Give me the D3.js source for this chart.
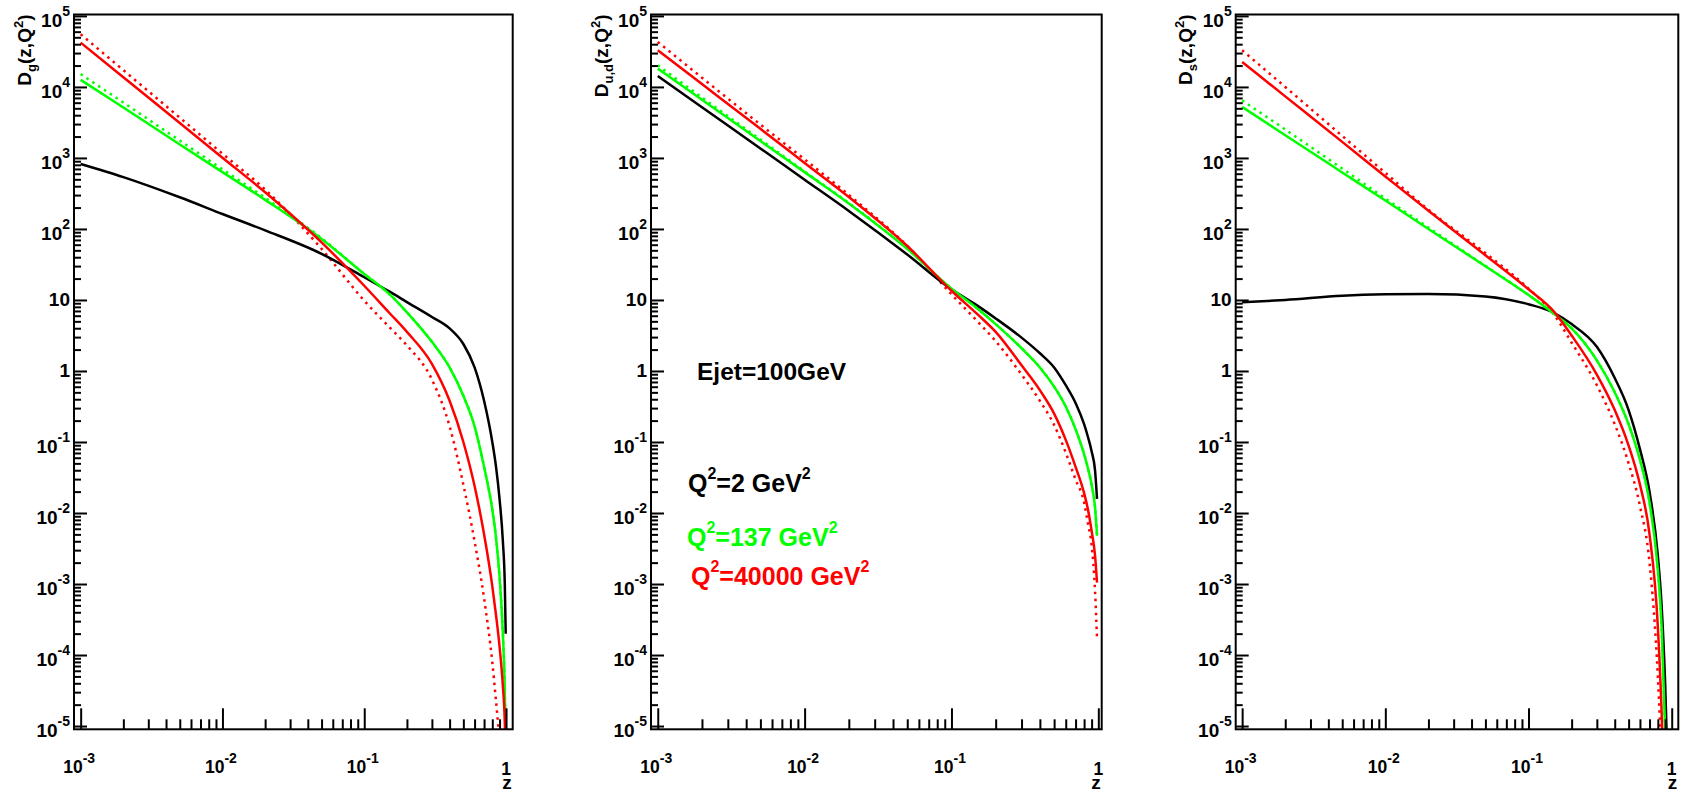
<!DOCTYPE html>
<meta charset="utf-8">
<style>

body {
  margin: 0;
  background: #fff;
}

text {
  font-family: "Liberation Sans", Arial, sans-serif;
  font-weight: bold;
}

.tick line {
  stroke: #000;
  stroke-width: 2px;
}

</style>
<svg width="1683" height="793"></svg>
<script src="https://d3js.org/d3.v7.min.js"></script>
<script>

var zValues = [0.001, 0.002, 0.005, 0.01, 0.02, 0.05, 0.1, 0.15, 0.2, 0.3,
               0.4, 0.5, 0.6, 0.7, 0.8, 0.85, 0.9, 0.95, 0.98, 0.995];

// log10 D(z,Q^2) (null = curve already left the frame)
var gluonQ2        = [2.915, 2.73, 2.446, 2.211, 1.98, 1.65, 1.32, 1.12, 0.97, 0.76, 0.6, 0.38, 0.05, -0.42, -1.0, -1.35, -1.8, -2.4, -3.0, -3.7];
var gluonQ137      = [4.10, 3.71, 3.19, 2.80, 2.41, 1.86, 1.366, 1.085, 0.826, 0.41, 0.05, -0.35, -0.78, -1.35, -1.95, -2.35, -2.9, -3.7, -4.5, -5.3];
var gluonQ137dot   = [4.18, 3.78, 3.245, 2.84, 2.44, 1.87, 1.366, 1.085, 0.826, 0.41, 0.05, -0.35, -0.78, -1.35, -1.95, -2.35, -2.9, -3.7, -4.5, -5.3];
var gluonQ40000    = [4.624, 4.136, 3.492, 3.004, 2.516, 1.81, 1.2, 0.82, 0.55, 0.1, -0.42, -1.0, -1.62, -2.3, -3.03, -3.44, -3.88, -4.44, -4.94, -5.5];
var gluonQ40000dot = [4.742, 4.236, 3.568, 3.06, 2.555, 1.72, 0.99, 0.62, 0.36, -0.12, -0.78, -1.6, -2.4, -3.2, -4.1, -4.65, -5.2, null, null, null];

var quarkQ2        = [4.155, 3.715, 3.134, 2.694, 2.254, 1.64, 1.15, 0.92, 0.74, 0.47, 0.25, 0.05, -0.2, -0.45, -0.75, -0.93, -1.13, -1.4, -1.8, null];
var quarkQ137      = [4.258, 3.819, 3.239, 2.80, 2.36, 1.72, 1.16, 0.88, 0.66, 0.32, 0.05, -0.22, -0.5, -0.82, -1.17, -1.37, -1.6, -1.92, -2.32, null];
var quarkQ137dot   = [4.305, 3.85, 3.26, 2.81, 2.365, 1.72, 1.16, 0.88, 0.66, 0.32, 0.05, -0.22, -0.5, -0.82, -1.17, -1.37, -1.6, -1.92, -2.32, null];
var quarkQ40000    = [4.516, 4.04, 3.41, 2.93, 2.45, 1.76, 1.13, 0.8, 0.55, 0.08, -0.27, -0.6, -0.97, -1.35, -1.72, -1.95, -2.25, -2.6, -2.98, null];
var quarkQ40000dot = [4.634, 4.13, 3.47, 2.98, 2.48, 1.76, 1.08, 0.7, 0.42, -0.05, -0.42, -0.76, -1.15, -1.53, -1.85, -2.15, -2.45, -3.1, -3.77, null];

var strangeQ2        = [0.967, 1.0, 1.06, 1.08, 1.085, 1.05, 0.94, 0.82, 0.66, 0.34, -0.1, -0.55, -1.1, -1.7, -2.6, -3.3, -4.4, -6.0, null, null];
var strangeQ137      = [3.718, 3.32, 2.796, 2.40, 2.00, 1.475, 1.07, 0.81, 0.6, 0.15, -0.3, -0.75, -1.25, -1.85, -2.8, -3.6, -5.05, null, null, null];
var strangeQ137dot   = [3.81, 3.40, 2.85, 2.43, 2.02, 1.48, 1.07, 0.81, 0.6, 0.15, -0.3, -0.75, -1.25, -1.85, -2.8, -3.6, -5.05, null, null, null];
var strangeQ40000    = [4.352, 3.867, 3.226, 2.74, 2.255, 1.63, 1.15, 0.84, 0.5, -0.05, -0.55, -1.05, -1.6, -2.3, -3.6, -4.8, -6.5, null, null, null];
var strangeQ40000dot = [4.516, 4.0, 3.31, 2.79, 2.27, 1.66, 1.16, 0.8, 0.4, -0.2, -0.75, -1.3, -1.9, -2.7, -4.3, -5.5, null, null, null, null];

// tick labels: [base, exponent]
var xTickLabels = [["10", "-3"], ["10", "-2"], ["10", "-1"], ["1", ""]];
var yTickLabels = [["10", "5"], ["10", "4"], ["10", "3"], ["10", "2"], ["10", ""], ["1", ""],
                   ["10", "-1"], ["10", "-2"], ["10", "-3"], ["10", "-4"], ["10", "-5"]];

var panelTitles = [["D", "g"], ["D", "u,d"], ["D", "s"]];
var legendLabels = [["Q", "=2 GeV"], ["Q", "=137 GeV"], ["Q", "=40000 GeV"]];
var energyLabel = "Ejet=100GeV";

var svg = d3.select("svg"),
    frameTop = 14.5,
    frameBottom = 729.3;

var panels = [
  {left: 74,     right: 512.7,  xlo: -3.047, xhi: 0.047, title: panelTitles[0],
   series: [gluonQ137dot, gluonQ40000dot, gluonQ2, gluonQ137, gluonQ40000]},
  {left: 651,    right: 1101.7, xlo: -3.046, xhi: 0.023, title: panelTitles[1],
   series: [quarkQ137dot, quarkQ40000dot, quarkQ2, quarkQ137, quarkQ40000]},
  {left: 1235.7, right: 1678.3, xlo: -3.045, xhi: 0.046, title: panelTitles[2],
   series: [strangeQ137dot, strangeQ40000dot, strangeQ2, strangeQ137, strangeQ40000]}
];

var styles = [
  {color: "#00ff00", dotted: true},
  {color: "#ff0000", dotted: true},
  {color: "#000000", dotted: false},
  {color: "#00ff00", dotted: false},
  {color: "#ff0000", dotted: false}
];

var y = d3.scaleLog()
    .domain([Math.pow(10, -5.046), Math.pow(10, 5.02)])
    .range([frameBottom, frameTop]);

var yMajor = d3.range(-5, 6).map(function(k) { return Math.pow(10, k); });
var yMinor = [];
d3.range(-5, 5).forEach(function(k) {
  for (var m = 2; m <= 9; m++) yMinor.push(m * Math.pow(10, k));
});
var xMajor = d3.range(-3, 1).map(function(k) { return Math.pow(10, k); });
var xMinor = [];
d3.range(-3, 0).forEach(function(k) {
  for (var m = 2; m <= 9; m++) xMinor.push(m * Math.pow(10, k));
});

function powerText(sel, base, exp, baseSize, expSize, rise) {
  sel.append("tspan").attr("font-size", baseSize).text(base);
  if (exp) sel.append("tspan").attr("font-size", expSize).attr("dy", -rise).text(exp);
}

panels.forEach(function(p, i) {
  var x = d3.scaleLog()
      .domain([Math.pow(10, p.xlo), Math.pow(10, p.xhi)])
      .range([p.left, p.right]);

  var g = svg.append("g");

  g.append("clipPath").attr("id", "clip" + i)
    .append("rect")
      .attr("x", p.left).attr("y", frameTop)
      .attr("width", p.right - p.left).attr("height", frameBottom - frameTop);

  // curves
  var line = d3.line()
      .defined(function(d) { return d[1] != null; })
      .x(function(d) { return x(d[0]); })
      .y(function(d) { return y(Math.pow(10, d[1])); })
      .curve(d3.curveMonotoneX);

  p.series.forEach(function(vals, j) {
    var st = styles[j];
    g.append("path")
      .datum(zValues.map(function(z, k) { return [z, vals[k]]; }))
      .attr("clip-path", "url(#clip" + i + ")")
      .attr("fill", "none")
      .attr("stroke", st.color)
      .attr("stroke-width", 2.5)
      .attr("stroke-dasharray", st.dotted ? "2.5 4.5" : null)
      .attr("d", line);
  });

  // axes: ticks pointing into the frame
  function addAxis(axis, tr) {
    var a = g.append("g").attr("transform", tr).call(axis);
    a.select(".domain").remove();
    a.selectAll("text").remove();
  }
  addAxis(d3.axisBottom(x).tickValues(xMajor).tickSizeInner(-21).tickSizeOuter(0), "translate(0," + frameBottom + ")");
  addAxis(d3.axisBottom(x).tickValues(xMinor).tickSizeInner(-10).tickSizeOuter(0), "translate(0," + frameBottom + ")");
  addAxis(d3.axisLeft(y).tickValues(yMajor).tickSizeInner(-13).tickSizeOuter(0), "translate(" + p.left + ",0)");
  addAxis(d3.axisLeft(y).tickValues(yMinor).tickSizeInner(-7).tickSizeOuter(0), "translate(" + p.left + ",0)");

  g.append("rect")
      .attr("x", p.left).attr("y", frameTop)
      .attr("width", p.right - p.left).attr("height", frameBottom - frameTop)
      .attr("fill", "none").attr("stroke", "#000").attr("stroke-width", 2);

  // x tick labels
  xMajor.forEach(function(v, k) {
    var lab = xTickLabels[k];
    var t = g.append("text")
        .attr("x", x(v) - (lab[1] ? 1.5 : 0))
        .attr("y", lab[1] ? 773 : 775)
        .attr("text-anchor", "middle");
    powerText(t, lab[0], lab[1], 17.5, 14, 10);
  });

  // y tick labels
  yMajor.slice().reverse().forEach(function(v, k) {
    var lab = yTickLabels[k];
    var t = g.append("text")
        .attr("x", p.left - 4)
        .attr("y", y(v) + (lab[1] ? 11 : 6.5))
        .attr("text-anchor", "end");
    powerText(t, lab[0], lab[1], 19, 14, 11);
  });

  // axis titles
  g.append("text")
      .attr("x", p.right - 1)
      .attr("y", 789)
      .attr("text-anchor", "end")
      .attr("font-size", 19)
      .text("z");

  var yt = g.append("text")
      .attr("transform", "translate(" + (p.left - 43.5) + "," + frameTop + ") rotate(-90)")
      .attr("text-anchor", "end")
      .attr("font-size", 19);
  yt.append("tspan").text(p.title[0]);
  yt.append("tspan").attr("font-size", 13).attr("dy", 5).text(p.title[1]);
  yt.append("tspan").attr("dy", -5).text("(z,Q");
  yt.append("tspan").attr("font-size", 13).attr("dy", -8).text("2");
  yt.append("tspan").attr("dy", 8).text(")");
});

// annotations in the middle panel
svg.append("text")
    .attr("x", 697).attr("y", 380)
    .attr("font-size", 24.5)
    .text(energyLabel);

var legendColors = ["#000000", "#00ff00", "#ff0000"];
var legendPos = [[688, 492], [687, 546], [691, 585]];
legendLabels.forEach(function(l, i) {
  var t = svg.append("text")
      .attr("x", legendPos[i][0]).attr("y", legendPos[i][1])
      .attr("font-size", 25)
      .attr("fill", legendColors[i]);
  t.append("tspan").text(l[0]);
  t.append("tspan").attr("font-size", 16).attr("dy", -13).text("2");
  t.append("tspan").attr("dy", 13).text(l[1]);
  t.append("tspan").attr("font-size", 16).attr("dy", -13).text("2");
});

</script>
